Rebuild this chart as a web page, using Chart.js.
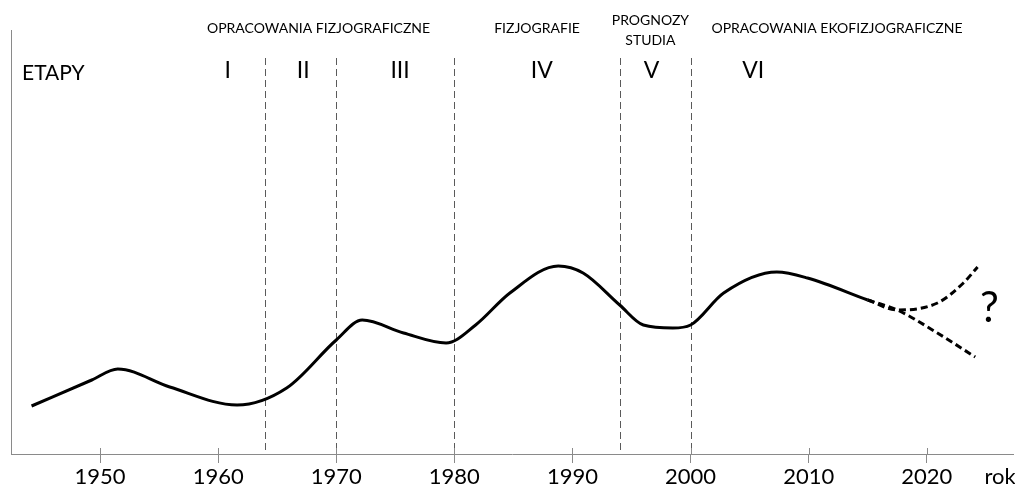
<!DOCTYPE html>
<html lang="pl">
<head>
<meta charset="utf-8">
<title>Etapy opracowań fizjograficznych</title>
<script src="https://cdn.jsdelivr.net/npm/chart.js@4.4.1/dist/chart.umd.min.js"></script>
<style>
html, body { margin: 0; padding: 0; background: #fff; }
#wrap { width: 1015px; height: 490px; }
</style>
</head>
<body>
<div id="wrap"><canvas id="wykres" width="1015" height="490"></canvas></div>
<script>
// ==========================================
// DANE WYKRESU
// ==========================================
const lataKrzywej = [1944.2, 1949.3, 1951.5, 1955.9, 1961.6, 1965.8, 1970.0, 1972.2, 1975.7, 1979.3,
                     1981.8, 1984.7, 1988.8, 1990.9, 1994.0, 1996.0, 1998.5, 2000.0, 2002.8, 2007.3, 2009.9, 2015.0];
const wartosciKrzywej = [48, 74, 85, 67, 49, 66, 114, 134, 121, 111,
                         129, 161, 188, 181, 149, 129, 126, 129, 161, 182, 176, 154];

// prognoza (linia przerywana) - dwa warianty
const lataPrognozy = [2015.0, 2017.5, 2020.9, 2023.1, 2024.3];
const prognozaWzrost = [154, 144, 151, 171, 187];
const lataSpadku = [2015.0, 2017.5, 2020.9, 2024.1];
const prognozaSpadek = [154, 144, 121, 97];

const lataOsi = [1950, 1960, 1970, 1980, 1990, 2000, 2010, 2020];
const granicEtapow = [1964, 1970, 1980, 1994, 2000];

const etapy = ["I", "II", "III", "IV", "V", "VI"];
const lataEtapow = [1960.8, 1967.2, 1975.4, 1987.4, 1996.7, 2005.3];

const naglowki = ["OPRACOWANIA FIZJOGRAFICZNE", "FIZJOGRAFIE", "PROGNOZY", "STUDIA", "OPRACOWANIA EKOFIZJOGRAFICZNE"];
const lataNaglowkow = [1968.5, 1987.0, 1996.6, 1996.6, 2012.4];

const CZCIONKA = "Lato, 'Open Sans', sans-serif";
const KOLOR_OSI = "#8a8a8a";

const punkty = (xs, ys) => xs.map((x, i) => ({ x: x, y: ys[i] }));

// ==========================================
// ADNOTACJE (linie etapów, napisy)
// ==========================================
const adnotacje = {
    id: "adnotacje",
    beforeDatasetsDraw(chart) {
        const { ctx, chartArea, scales: { x, y } } = chart;
        ctx.save();
        // pionowe granice etapów
        ctx.strokeStyle = "#5a5a5a";
        ctx.lineWidth = 1;
        ctx.setLineDash([7, 4]);
        granicEtapow.forEach(rok => {
            const px = Math.round(x.getPixelForValue(rok)) + 0.5;
            ctx.beginPath();
            ctx.moveTo(px, y.getPixelForValue(396));
            ctx.lineTo(px, chartArea.bottom);
            ctx.stroke();
        });
        ctx.setLineDash([]);
        // oś pionowa
        ctx.strokeStyle = KOLOR_OSI;
        ctx.beginPath();
        ctx.moveTo(chartArea.left + 0.5, chartArea.top);
        ctx.lineTo(chartArea.left + 0.5, chartArea.bottom);
        ctx.stroke();
        // górna część kresek podziałki
        x.ticks.forEach(t => {
            const px = Math.round(x.getPixelForValue(t.value)) + 0.5;
            ctx.beginPath();
            ctx.moveTo(px, chartArea.bottom - 6);
            ctx.lineTo(px, chartArea.bottom);
            ctx.stroke();
        });
        ctx.restore();
    },
    afterDraw(chart) {
        const { ctx, scales: { x, y } } = chart;
        ctx.save();
        ctx.fillStyle = "#000";
        ctx.textAlign = "center";
        ctx.textBaseline = "middle";

        ctx.font = "14px " + CZCIONKA;
        const wysNaglowkow = [28, 28, 20, 40, 28];
        naglowki.forEach((txt, i) => {
            ctx.fillText(txt, x.getPixelForValue(lataNaglowkow[i]), wysNaglowkow[i]);
        });

        ctx.font = "23px " + CZCIONKA;
        etapy.forEach((txt, i) => {
            ctx.fillText(txt, x.getPixelForValue(lataEtapow[i]), 71);
        });

        ctx.font = "21px " + CZCIONKA;
        ctx.textAlign = "left";
        ctx.fillText("ETAPY", 22, 73);

        ctx.textAlign = "center";
        ctx.font = "22px " + CZCIONKA;
        ctx.fillText("rok", 1000, 477);

        ctx.font = "42px " + CZCIONKA;
        ctx.fillText("?", x.getPixelForValue(2025.3), y.getPixelForValue(146));
        ctx.restore();
    }
};

// ==========================================
// WYKRES
// ==========================================
const stylLinii = { borderColor: "#000", borderWidth: 3, pointRadius: 0, cubicInterpolationMode: "monotone", fill: false };

new Chart(document.getElementById("wykres"), {
    type: "line",
    data: {
        datasets: [
            Object.assign({ data: punkty(lataKrzywej, wartosciKrzywej) }, stylLinii),
            Object.assign({ data: punkty(lataPrognozy, prognozaWzrost), borderDash: [7, 4] }, stylLinii),
            Object.assign({ data: punkty(lataSpadku, prognozaSpadek), borderDash: [7, 4] }, stylLinii)
        ]
    },
    options: {
        responsive: false,
        animation: false,
        devicePixelRatio: 1,
        layout: { padding: { left: 11, top: 30, right: 2, bottom: 0 } },
        plugins: { legend: { display: false }, tooltip: { enabled: false } },
        scales: {
            x: {
                type: "linear",
                min: 1942.46,
                max: 2027.3,
                afterBuildTicks: s => { s.ticks = lataOsi.map(v => ({ value: v })); },
                afterFit: s => { s.height = 36; },
                grid: { drawOnChartArea: false, tickLength: 9, color: KOLOR_OSI },
                border: { color: KOLOR_OSI, width: 1 },
                ticks: {
                    color: "#000",
                    padding: 1,
                    maxRotation: 0,
                    autoSkip: false,
                    font: { family: CZCIONKA, size: 22 },
                    callback: v => String(v)
                }
            },
            y: { display: false, min: 0, max: 424 }
        }
    },
    plugins: [adnotacje]
});
</script>
</body>
</html>
